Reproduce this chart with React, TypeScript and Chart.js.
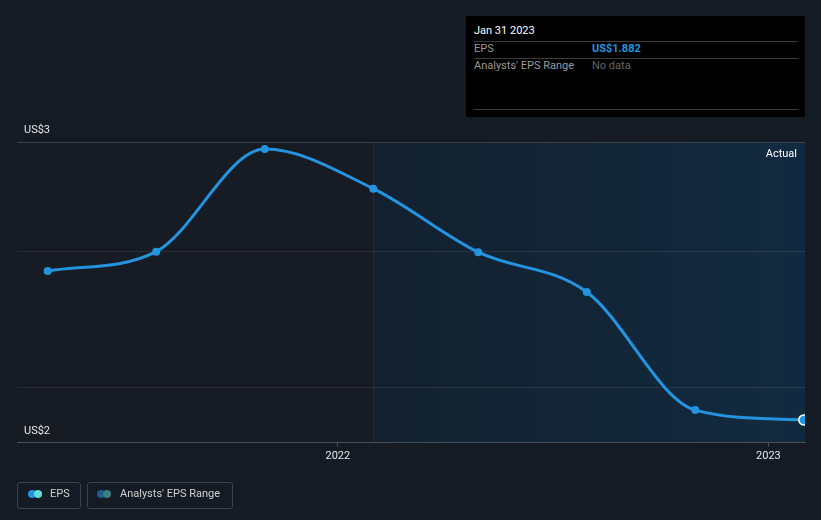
import React, { useEffect, useRef } from 'react';
import { Chart, registerables } from 'chart.js';

Chart.register(...registerables);

// ---- data ----
const periodEnds = ['2021-04-30', '2021-07-31', '2021-10-31', '2022-01-31', '2022-04-30', '2022-07-31', '2022-10-31', '2023-01-31'];
const epsValues = [2.428, 2.499, 2.875, 2.73, 2.497, 2.351, 1.918, 1.882];
const xTickYears = [2022, 2023];
const yGridValues = [2.0, 2.5];
const yAxisMin = 1.798;
const yAxisMax = 2.901;
const yEdgeLabels = ['US$2', 'US$3'];
const xRangeStart = '2021-04-04';
const xRangeEnd = '2023-02-01';
const actualStart = '2022-01-31';

const toMs = (s: string) => Date.parse(s + 'T00:00:00Z');

const FONT = 'Roboto, "Noto Sans", sans-serif';

const regionsPlugin = {
  id: 'regions',
  beforeDraw(chart: any) {
    const { ctx, chartArea, scales } = chart;
    const { left, right, top, bottom } = chartArea;
    const xs = scales.x.getPixelForValue(toMs(actualStart));
    ctx.save();
    ctx.fillStyle = '#171b24';
    ctx.fillRect(left, top, xs - left, bottom - top);
    const g = ctx.createLinearGradient(xs, 0, right, 0);
    g.addColorStop(0, '#13212f');
    g.addColorStop(1, '#122a40');
    ctx.fillStyle = g;
    ctx.fillRect(xs, top, right - xs, bottom - top);
    ctx.strokeStyle = '#1c3041';
    ctx.lineWidth = 1;
    ctx.beginPath();
    ctx.moveTo(Math.round(xs) + 0.5, top);
    ctx.lineTo(Math.round(xs) + 0.5, bottom);
    ctx.stroke();
    ctx.restore();
  },
  afterDraw(chart: any) {
    const { ctx, chartArea } = chart;
    ctx.save();
    ctx.fillStyle = '#ffffff';
    ctx.font = `11px ${FONT}`;
    ctx.textAlign = 'right';
    ctx.textBaseline = 'middle';
    ctx.fillText('Actual', chartArea.right - 8, chartArea.top + 12);
    ctx.restore();
  },
};

export default function App() {
  const ref = useRef<HTMLCanvasElement | null>(null);

  useEffect(() => {
    document.body.style.margin = '0';
    document.body.style.background = '#151b24';
    const canvas = ref.current;
    if (!canvas) return;
    const last = epsValues.length - 1;
    const chart = new Chart(canvas, {
      type: 'line',
      data: {
        datasets: [
          {
            label: 'EPS',
            data: periodEnds.map((d, i) => ({ x: toMs(d), y: epsValues[i] })),
            borderColor: '#2394df',
            borderWidth: 3,
            cubicInterpolationMode: 'monotone',
            pointRadius: (c: any) => (c.dataIndex === last ? 5 : 4),
            pointBackgroundColor: '#2394df',
            pointBorderColor: (c: any) => (c.dataIndex === last ? '#ffffff' : '#2394df'),
            pointBorderWidth: (c: any) => (c.dataIndex === last ? 1.5 : 0),
            clip: 0,
            fill: false,
          } as any,
        ],
      },
      options: {
        responsive: false,
        animation: false,
        events: [],
        layout: { padding: { left: 3, right: 16, top: 142, bottom: 54 } },
        plugins: {
          legend: { display: false },
          tooltip: { enabled: false },
        },
        scales: {
          x: {
            type: 'linear',
            min: toMs(xRangeStart),
            max: toMs(xRangeEnd),
            afterBuildTicks: (s: any) => {
              s.ticks = xTickYears.map((y) => ({ value: Date.UTC(y, 0, 1) }));
            },
            ticks: {
              autoSkip: false,
              maxRotation: 0,
              padding: 3,
              color: '#e6e6e6',
              font: { family: FONT, size: 11 },
              callback: (v: any) => String(new Date(Number(v)).getUTCFullYear()),
            },
            grid: { drawOnChartArea: false, drawTicks: true, tickLength: 4, color: '#4a4f57' },
            border: { display: true, color: '#4a4f57' },
          },
          y: {
            type: 'linear',
            min: yAxisMin,
            max: yAxisMax,
            afterBuildTicks: (s: any) => {
              s.ticks = [yAxisMin, ...yGridValues, yAxisMax].map((v) => ({ value: v }));
            },
            ticks: {
              mirror: true,
              padding: 7,
              labelOffset: -12,
              color: '#e6e6e6',
              font: { family: FONT, size: 11 },
              callback: (v: any) => (v === yAxisMin ? yEdgeLabels[0] : v === yAxisMax ? yEdgeLabels[1] : ''),
            },
            grid: {
              drawTicks: false,
              lineWidth: 1,
              color: (c: any) => {
                const val = c.tick ? c.tick.value : null;
                if (val === yAxisMax) return '#3a3f48';
                if (val === yAxisMin) return 'rgba(0,0,0,0)';
                return 'rgba(255,255,255,0.08)';
              },
            },
            border: { display: false },
          },
        },
      } as any,
      plugins: [regionsPlugin],
    });
    return () => chart.destroy();
  }, []);

  const rowText: React.CSSProperties = {
    position: 'absolute',
    fontFamily: FONT,
    fontSize: 11,
    lineHeight: '14px',
    height: 14,
    whiteSpace: 'nowrap',
  };
  const hline = (top: number): React.CSSProperties => ({
    position: 'absolute',
    left: 8,
    width: 324,
    top,
    height: 1,
    background: '#3a3a3a',
  });
  const legendBox = (left: number, width: number): React.CSSProperties => ({
    position: 'absolute',
    left,
    top: 482,
    width,
    height: 27,
    boxSizing: 'border-box',
    border: '1px solid #3d424b',
    borderRadius: 3,
  });
  const dot = (left: number, color: string): React.CSSProperties => ({
    position: 'absolute',
    left: left - 4,
    top: 494 - 482 - 1 - 4,
    width: 8,
    height: 8,
    borderRadius: '50%',
    background: color,
  });

  return (
    <div style={{ position: 'fixed', left: 0, top: 0, width: 821, height: 520, background: '#151b24', overflow: 'hidden' }}>
      <canvas ref={ref} width={821} height={520} style={{ display: 'block', width: 821, height: 520 }} />
      {/* tooltip panel */}
      <div style={{ position: 'absolute', left: 466, top: 16, width: 339, height: 101, background: '#000000' }}>
        <div style={{ ...rowText, left: 8, top: 30.5 - 16 - 7, color: '#ffffff' }}>Jan 31 2023</div>
        <div style={hline(41 - 16)} />
        <div style={{ ...rowText, left: 8, top: 48.7 - 16 - 7, color: '#9a9a9a' }}>EPS</div>
        <div style={{ ...rowText, left: 126, top: 48.7 - 16 - 7, color: '#2394df', fontWeight: 700 }}>US$1.882</div>
        <div style={hline(58 - 16)} />
        <div style={{ ...rowText, left: 8, top: 66 - 16 - 7, color: '#9a9a9a' }}>Analysts' EPS Range</div>
        <div style={{ ...rowText, left: 126, top: 66 - 16 - 7, color: '#666666' }}>No data</div>
        <div style={hline(109 - 16)} />
      </div>
      {/* legend */}
      <div style={legendBox(17, 64)}>
        <div style={dot(32 - 17 - 1, '#2394df')} />
        <div style={dot(37.5 - 17 - 1, '#5ee0d6')} />
        <div style={{ ...rowText, left: 50 - 17 - 1, top: 494.3 - 482 - 1 - 7, color: '#d0d0d0' }}>EPS</div>
      </div>
      <div style={legendBox(87, 146)}>
        <div style={dot(101 - 87 - 1, '#1f5d8d')} />
        <div style={dot(106.5 - 87 - 1, '#3d7e7e')} />
        <div style={{ ...rowText, left: 120 - 87 - 1, top: 494.3 - 482 - 1 - 7, color: '#d0d0d0' }}>Analysts' EPS Range</div>
      </div>
    </div>
  );
}
